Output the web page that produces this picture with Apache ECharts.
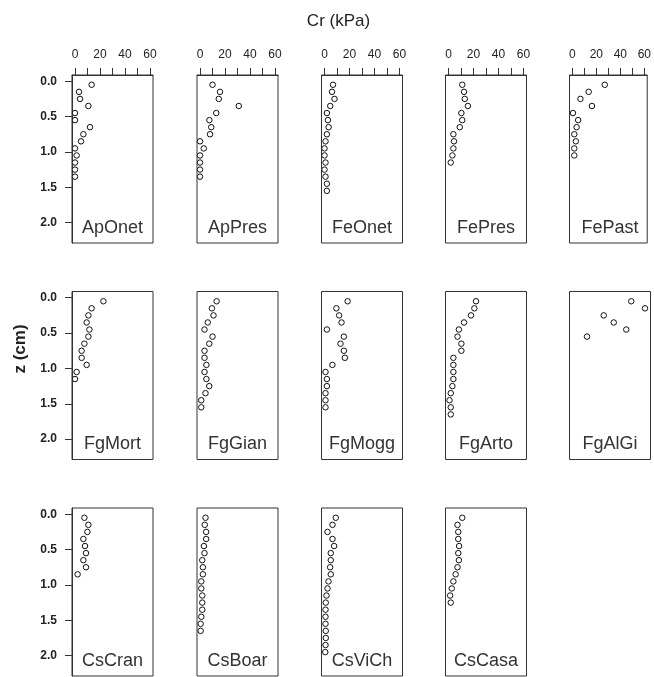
<!DOCTYPE html>
<html>
<head>
<meta charset="utf-8">
<script src="https://cdn.jsdelivr.net/npm/echarts@6/dist/echarts.min.js"></script>
<style>
html,body{margin:0;padding:0;background:#fff;}
#chart{width:654px;height:677px;}
</style>
</head>
<body>
<div id="chart"></div>
<script>
// Depth values (cm) shared by all panels; each panel uses the first N
const DEPTHS = [0.05,0.15,0.25,0.35,0.45,0.55,0.65,0.75,0.85,0.95,1.05,1.15,1.25,1.35,1.45,1.55,1.65,1.75,1.85,1.95];

// Panel names (row-major)
const PANELS = ["ApOnet","ApPres","FeOnet","FePres","FePast",
                "FgMort","FgGian","FgMogg","FgArto","FgAlGi",
                "CsCran","CsBoar","CsViCh","CsCasa"];

// Cr (kPa) per depth, per panel
const ApOnet = [13.3,3.2,4,10.7,0,0,12,6.7,4.8,0,1.3,0,0,0];
const ApPres = [10,16,15,31,13,7.5,9,8,0,3,0,0,0,0];
const FeOnet = [6.8,6,8,4.6,1.9,2.7,3.3,1.9,0.8,0,0,0.8,0,0.8,1.9,1.9];
const FePres = [11,12.4,13,15.5,10.3,11,9,3.9,4.4,3.9,3.1,1.8];
const FePast = [27,13.6,6.7,16.3,0.5,4.8,3.5,1.6,2.9,1.6,1.6];
const FgMort = [22.7,13.3,10.7,9.3,11.5,10.7,7.5,5.3,5.3,9.3,1.3,0];
const FgGian = [13.3,9.5,10.8,6.2,3.6,10,7.4,3.6,3.6,5.1,3.6,5.1,7.4,4.4,1,1];
const FgMogg = [18.5,9.5,11.7,13.6,1.9,15.5,12.8,15.5,16.3,6.3,0.8,1.9,1.9,0.8,0.8,0.8];
const FgArto = [22,20.7,18,12.4,8.3,7.2,10.3,10.3,3.9,3.9,3.9,3.9,3.1,1.8,0.8,1.8,1.8];
const FgAlGi = [47,58,25,33,43,11.6];
const CsCran = [7.5,10.7,9.9,6.7,8,8.8,6.7,8.8,2.1];
const CsBoar = [4.4,3.8,4.9,4.9,3.1,3.6,1.8,2.3,2.3,1,1,1.8,1.8,1.8,1,0.5,0.5];
const CsViCh = [9,6.4,2.4,6.4,7.7,5,5,4.5,5,3.2,2.4,1.6,1,0.8,0.8,0.8,1,1,0.8,0.6];
const CsCasa = [11,7.2,7.8,7.8,8.5,7.8,8.3,7.2,5.7,3.9,2.6,1.3,1.8];

const VALUES = [ApOnet,ApPres,FeOnet,FePres,FePast,FgMort,FgGian,FgMogg,FgArto,FgAlGi,CsCran,CsBoar,CsViCh,CsCasa];

// Tick values
const X_TICKS = [0,10,20,30,40,50,60];
const X_LABELS = [0,20,40,60];
const Y_TICKS = [0,0.5,1.0,1.5,2.0];

const X_TITLE = "Cr (kPa)";
const Y_TITLE = "z (cm)";

// Layout
const COL_LEFT = [72,197,321.5,445.5,569.5];
const ROW_TOP = [75,291.5,508];
const GW = 81, GH = 168;
const TXT = '#222';
const FONT = 'Liberation Sans, Arial, sans-serif';

const grids=[], xAxes=[], yAxes=[], series=[], graphics=[];
PANELS.forEach((name,i)=>{
  const r = Math.floor(i/5), c = i%5;
  const left = COL_LEFT[c], top = ROW_TOP[r];
  grids.push({left:left, top:top, width:GW, height:GH, show:true,
    borderColor:'#333', borderWidth:1, backgroundColor:'transparent', containLabel:false});
  const topRow = (r===0);
  xAxes.push({gridIndex:i, type:'value', position:'top', min:-2.4, max:62.4,
    axisLine:{show:topRow, onZero:false, lineStyle:{color:'#333',width:1}},
    axisTick:{show:topRow, length:7, customValues:X_TICKS, lineStyle:{color:'#333'}},
    axisLabel:{show:topRow, customValues:X_LABELS, fontSize:12, color:TXT, margin:14, fontFamily:FONT,
      hideOverlap:false, showMinLabel:true, showMaxLabel:true},
    splitLine:{show:false}});
  const first = (c===0);
  yAxes.push({gridIndex:i, type:'value', inverse:true, min:-0.088, max:2.288,
    axisLine:{show:first, onZero:false, lineStyle:{color:'#333',width:1}},
    axisTick:{show:first, length:7, customValues:Y_TICKS, lineStyle:{color:'#333'}},
    axisLabel:{show:first, customValues:Y_TICKS, fontSize:12, fontWeight:'bold', color:TXT, margin:15,
      fontFamily:FONT, formatter:v=>Number(v).toFixed(1), showMinLabel:true, showMaxLabel:true},
    splitLine:{show:false}});
  const vals = VALUES[i];
  series.push({type:'scatter', xAxisIndex:i, yAxisIndex:i, name:name,
    data: vals.map((v,k)=>[v, DEPTHS[k]]),
    symbol:'circle', symbolSize:5.5,
    itemStyle:{color:'#fff', borderColor:'#111', borderWidth:1, opacity:1},
    emphasis:{disabled:true}, silent:true, clip:false});
  graphics.push({type:'text', x:left+GW/2, y:top+GH-15, silent:true,
    style:{text:name, font:'18px '+FONT, fill:'#333', align:'center', verticalAlign:'middle'}});
});

graphics.push({type:'text', x:338.5, y:21, silent:true,
  style:{text:X_TITLE, font:'17px '+FONT, fill:TXT, align:'center', verticalAlign:'middle'}});
graphics.push({type:'text', x:20, y:349, rotation:Math.PI/2, silent:true,
  style:{text:Y_TITLE, font:'bold 17px '+FONT, fill:TXT, align:'center', verticalAlign:'middle'}});

const chart = echarts.init(document.getElementById('chart'), null, {renderer:'canvas'});
chart.setOption({
  animation:false,
  backgroundColor:'#fff',
  grid:grids, xAxis:xAxes, yAxis:yAxes, series:series,
  graphic:graphics
});
</script>
</body>
</html>
